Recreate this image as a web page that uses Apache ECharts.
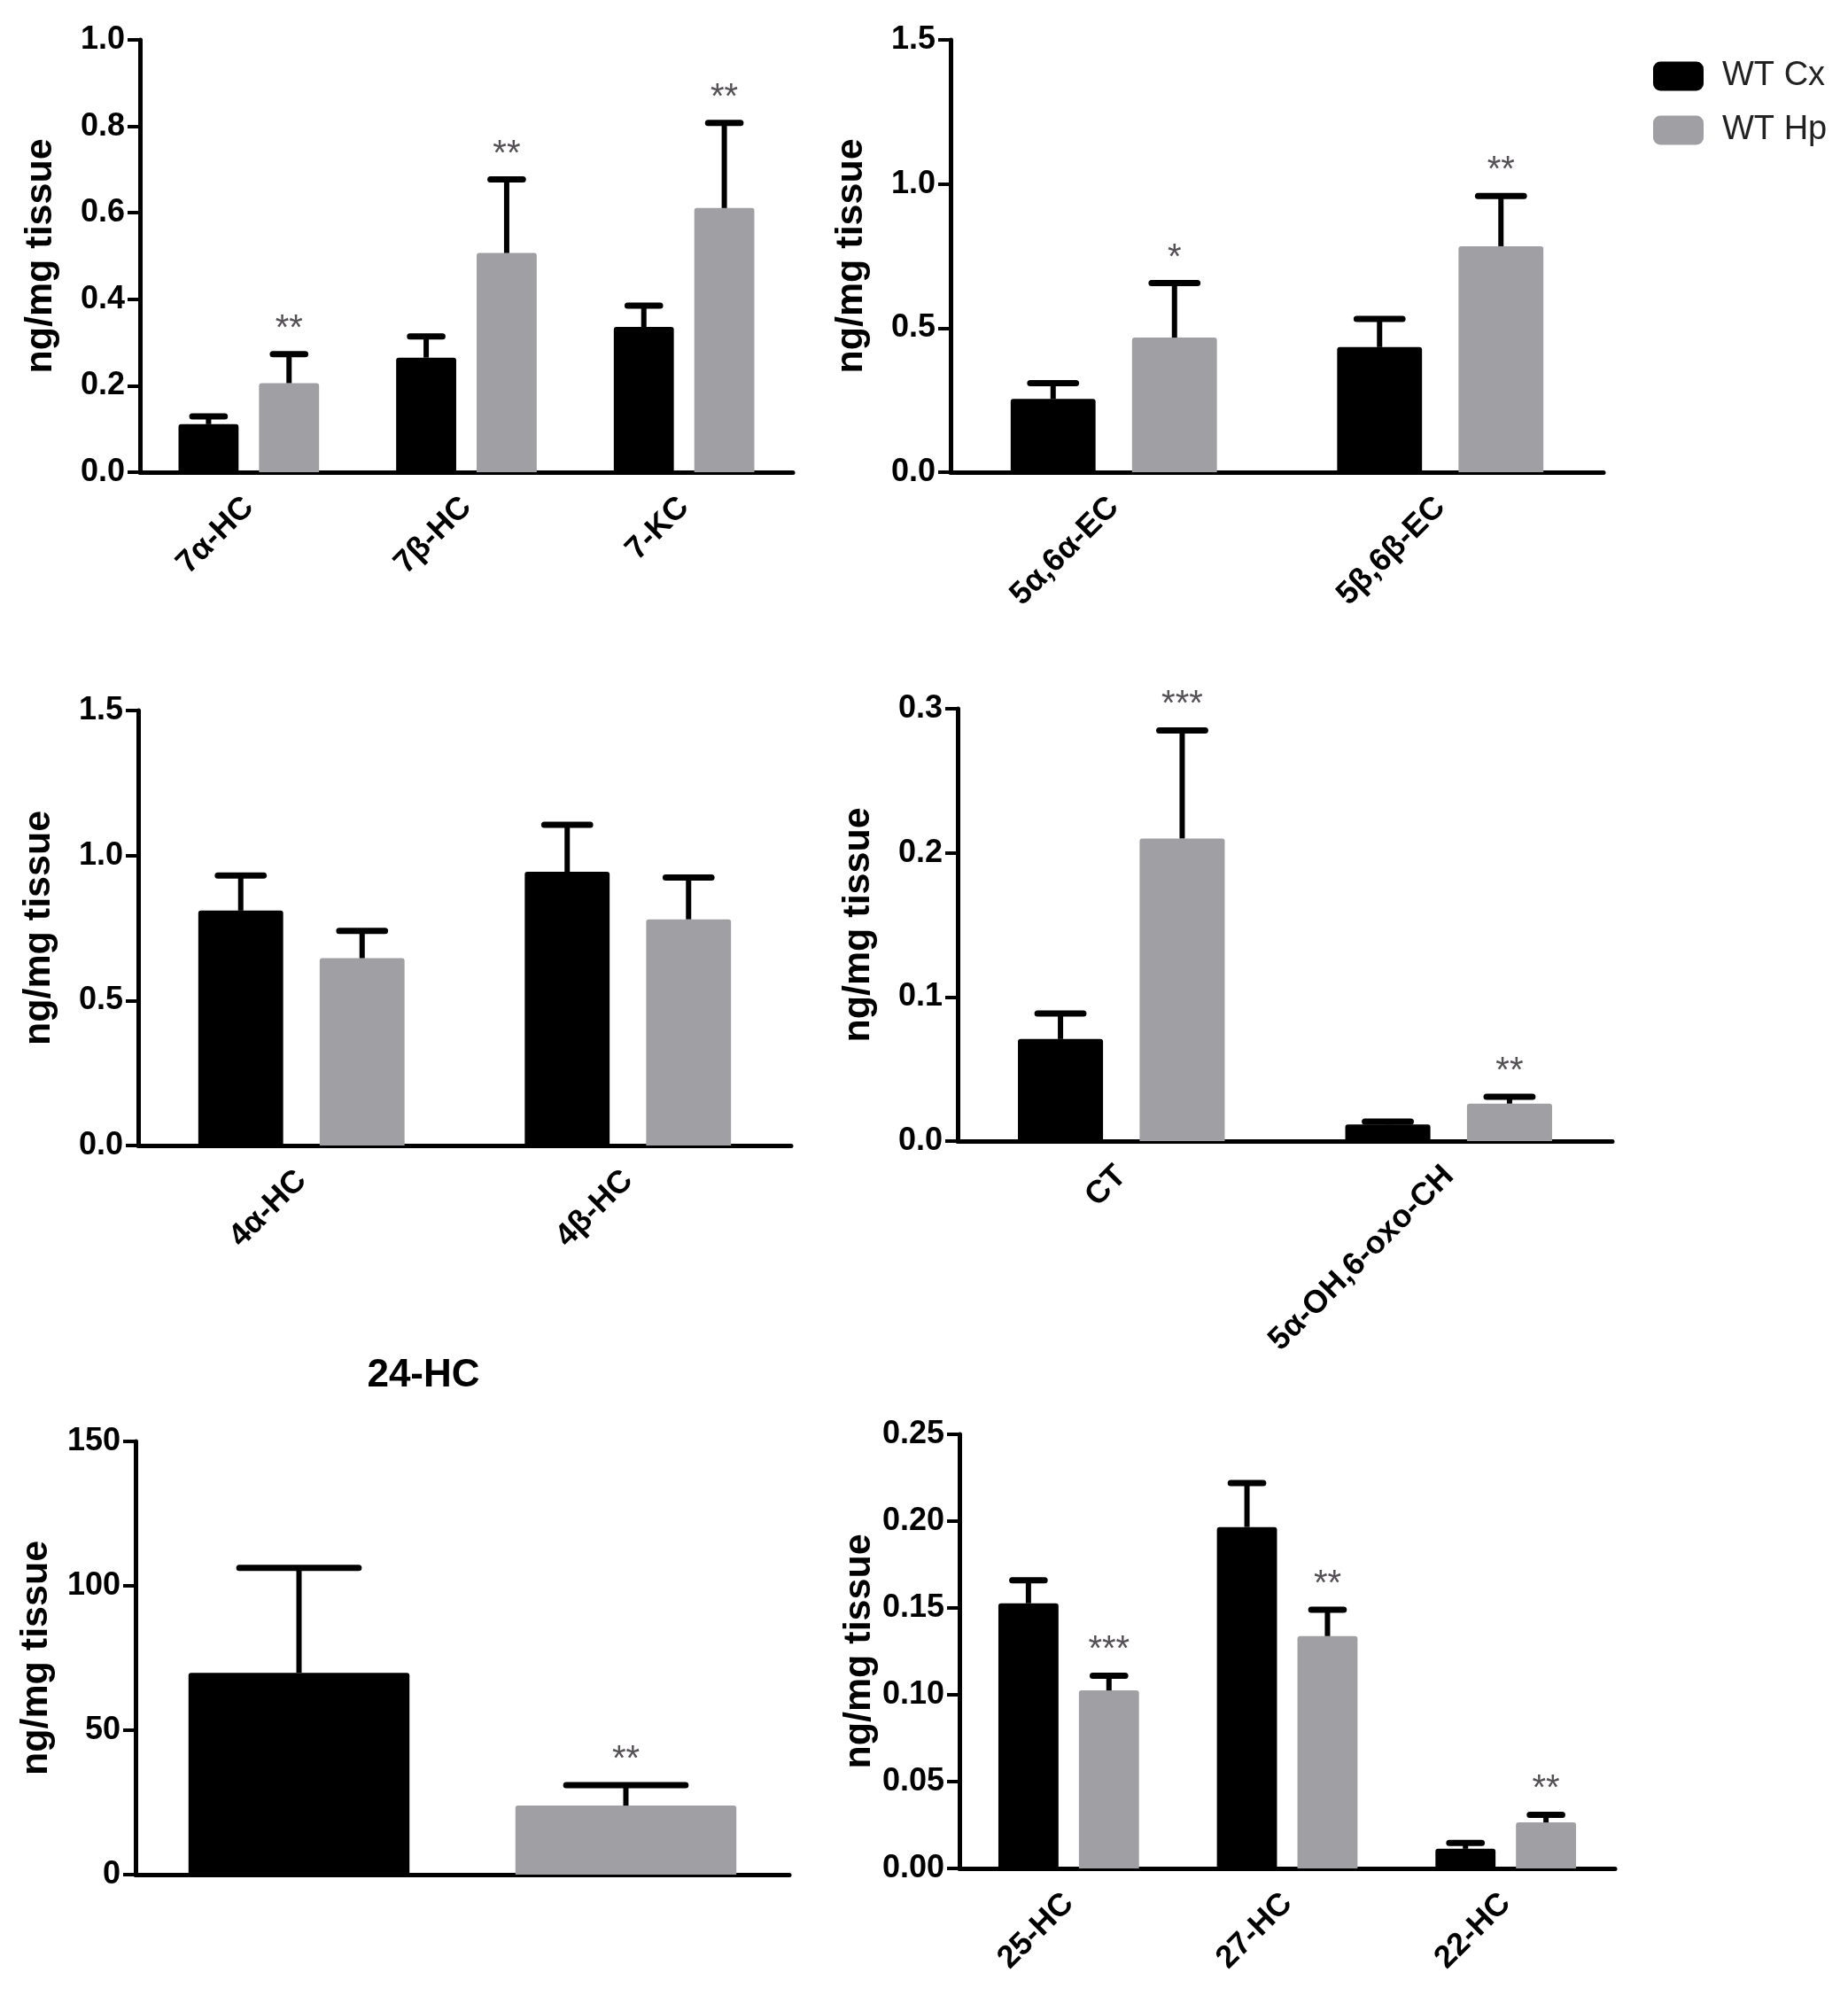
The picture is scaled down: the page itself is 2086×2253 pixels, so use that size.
<!DOCTYPE html>
<html>
<head>
<meta charset="utf-8">
<title>Oxysterols</title>
<script src="https://cdn.jsdelivr.net/npm/echarts@6/dist/echarts.min.js"></script>
<style>
  html, body { margin: 0; padding: 0; background: #fff; }
  #chart { width: 2086px; height: 2253px; }
</style>
</head>
<body>
<div id="chart"></div>
<script>
// values (mean and SEM, ng/mg tissue)
const cats1 = ['7α-HC', '7β-HC', '7-KC'];
const cx1 = [0.111, 0.265, 0.336];
const cxSem1 = [0.018, 0.049, 0.049];
const hp1 = [0.206, 0.507, 0.611];
const hpSem1 = [0.067, 0.170, 0.197];
const stars1 = ['**', '**', '**'];

const cats2 = ['5α,6α-EC', '5β,6β-EC'];
const cx2 = [0.254, 0.434];
const cxSem2 = [0.055, 0.098];
const hp2 = [0.467, 0.784];
const hpSem2 = [0.189, 0.174];
const stars2 = ['*', '**'];

const cats3 = ['4α-HC', '4β-HC'];
const cx3 = [0.810, 0.944];
const cxSem3 = [0.121, 0.162];
const hp3 = [0.646, 0.780];
const hpSem3 = [0.094, 0.144];
const stars3 = ['', ''];

const cats4 = ['CT', '5α-OH,6-oxo-CH'];
const cx4 = [0.0708, 0.0115];
const cxSem4 = [0.0178, 0.0020];
const hp4 = [0.210, 0.026];
const hpSem4 = [0.075, 0.0047];
const stars4 = ['***', '**'];

const cats5 = ['WT Cx', 'WT Hp'];
const val5 = [69.9, 23.9];
const sem5 = [36.3, 7.1];
const stars5 = ['', '**'];

const cats6 = ['25-HC', '27-HC', '22-HC'];
const cx6 = [0.1527, 0.1966, 0.0113];
const cxSem6 = [0.0133, 0.0254, 0.0034];
const hp6 = [0.1025, 0.1338, 0.0265];
const hpSem6 = [0.0085, 0.0152, 0.0044];
const stars6 = ['***', '**', '**'];

const FONT = "'Liberation Sans', Arial, sans-serif";
const BLACK = '#000000';
const GREY = '#a0a0a4';
const STAR = '#555055';

const grids = [];
const xAxes = [];
const yAxes = [];
const series = [];

// error bar (upwards only) with cap, star text above
function errRender(barW, gap, side, stars) {
  return function (params, api) {
    const cat = api.value(0);
    const base = api.coord([cat, api.value(1)]);
    const top = api.coord([cat, api.value(2)]);
    const band = api.size([1, 0])[0];
    const barPx = band * barW;
    const x = base[0] + side * barPx * (1 + gap) / 2;
    const half = barPx * 0.27;
    const children = [
      { type: 'line', shape: { x1: x, y1: base[1], x2: x, y2: top[1] },
        style: { stroke: '#000', lineWidth: 6 } },
      { type: 'line', shape: { x1: x - half, y1: top[1], x2: x + half, y2: top[1] },
        style: { stroke: '#000', lineWidth: 7, lineCap: 'round' } }
    ];
    const s = stars[params.dataIndex];
    if (s) {
      children.push({ type: 'text', x: x, y: top[1] - 8,
        style: { text: s, fill: STAR, font: '40px ' + FONT, textAlign: 'center', textVerticalAlign: 'bottom' } });
    }
    return { type: 'group', children: children };
  };
}

function addPanel(box, yMax, yStep, dec, cats, showLabels) {
  const i = grids.length;
  grids.push(box);
  xAxes.push({
    gridIndex: i, type: 'category', data: cats,
    axisLine: { lineStyle: { color: '#000', width: 5 } },
    axisTick: { alignWithLabel: true, length: 18, lineStyle: { color: '#000', width: 4 } },
    axisLabel: { show: showLabels, interval: 0, rotate: 45, margin: 34, color: '#000',
      fontSize: 36, fontWeight: 'bold', fontFamily: FONT }
  });
  yAxes.push({
    gridIndex: i, type: 'value', min: 0, max: yMax, interval: yStep,
    name: 'ng/mg tissue', nameLocation: 'middle', nameRotate: 90, nameGap: 90,
    nameTextStyle: { color: '#000', fontSize: 43, fontWeight: 'bold', fontFamily: FONT },
    axisLine: { show: true, lineStyle: { color: '#000', width: 5 } },
    axisTick: { show: true, length: 14, lineStyle: { color: '#000', width: 4 } },
    splitLine: { show: false },
    axisLabel: { color: '#000', fontSize: 36, fontWeight: 'bold', fontFamily: FONT, margin: 17,
      formatter: v => v.toFixed(dec) }
  });
  return i;
}

function pairPanel(box, yMax, yStep, dec, cats, cx, cxSem, hp, hpSem, stars, barW, gap) {
  const i = addPanel(box, yMax, yStep, dec, cats, true);
  const bw = barW * 100 + '%';
  const bg = gap * 100 + '%';
  series.push({ type: 'bar', name: 'WT Cx', xAxisIndex: i, yAxisIndex: i, data: cx,
    barWidth: bw, barGap: bg, itemStyle: { color: BLACK, borderRadius: [3, 3, 0, 0] } });
  series.push({ type: 'bar', name: 'WT Hp', xAxisIndex: i, yAxisIndex: i, data: hp,
    barWidth: bw, barGap: bg, itemStyle: { color: GREY, borderRadius: [3, 3, 0, 0] } });
  series.push({ type: 'custom', name: 'errCx' + i, xAxisIndex: i, yAxisIndex: i, z: 5,
    renderItem: errRender(barW, gap, -1, cats.map(() => '')),
    data: cx.map((v, k) => [k, v, v + cxSem[k]]) });
  series.push({ type: 'custom', name: 'errHp' + i, xAxisIndex: i, yAxisIndex: i, z: 5,
    renderItem: errRender(barW, gap, 1, stars),
    data: hp.map((v, k) => [k, v, v + hpSem[k]]) });
}

pairPanel({ left: 158, top: 45, width: 737, height: 488 }, 1.0, 0.2, 1,
  cats1, cx1, cxSem1, hp1, hpSem1, stars1, 0.276, 0.34);
pairPanel({ left: 1073, top: 45, width: 737, height: 488 }, 1.5, 0.5, 1,
  cats2, cx2, cxSem2, hp2, hpSem2, stars2, 0.26, 0.43);
pairPanel({ left: 156, top: 802, width: 737, height: 491 }, 1.5, 0.5, 1,
  cats3, cx3, cxSem3, hp3, hpSem3, stars3, 0.26, 0.43);
pairPanel({ left: 1081, top: 800, width: 739, height: 488 }, 0.3, 0.1, 1,
  cats4, cx4, cxSem4, hp4, hpSem4, stars4, 0.26, 0.43);

// 24-HC: one bar per group, no category labels
const i5 = addPanel({ left: 153, top: 1627, width: 738, height: 489 }, 150, 50, 0, cats5, false);
series.push({ type: 'bar', name: 'WT Cx', xAxisIndex: i5, yAxisIndex: i5, data: [val5[0], '-'],
  barWidth: '67.6%', barGap: '-100%', itemStyle: { color: BLACK, borderRadius: [3, 3, 0, 0] } });
series.push({ type: 'bar', name: 'WT Hp', xAxisIndex: i5, yAxisIndex: i5, data: ['-', val5[1]],
  barWidth: '67.6%', barGap: '-100%', itemStyle: { color: GREY, borderRadius: [3, 3, 0, 0] } });
series.push({ type: 'custom', name: 'err5', xAxisIndex: i5, yAxisIndex: i5, z: 5,
  renderItem: errRender(0.676, 0, 0, stars5),
  data: val5.map((v, k) => [k, v, v + sem5[k]]) });

pairPanel({ left: 1083, top: 1619, width: 740, height: 490 }, 0.25, 0.05, 2,
  cats6, cx6, cxSem6, hp6, hpSem6, stars6, 0.275, 0.34);

const chart = echarts.init(document.getElementById('chart'));
chart.setOption({
  animation: false,
  backgroundColor: '#fff',
  legend: {
    data: ['WT Cx', 'WT Hp'], orient: 'vertical', left: 1861, top: 62,
    icon: 'roundRect', itemWidth: 57, itemHeight: 33, itemGap: 23,
    textStyle: { color: '#222', fontSize: 38, fontFamily: FONT, padding: [0, 0, 0, 16] }
  },
  graphic: [{
    type: 'text', x: 478, y: 1553,
    style: { text: '24-HC', font: 'bold 44px ' + FONT, fill: '#000', textAlign: 'center', textVerticalAlign: 'middle' }
  }],
  grid: grids,
  xAxis: xAxes,
  yAxis: yAxes,
  series: series
});
</script>
</body>
</html>
